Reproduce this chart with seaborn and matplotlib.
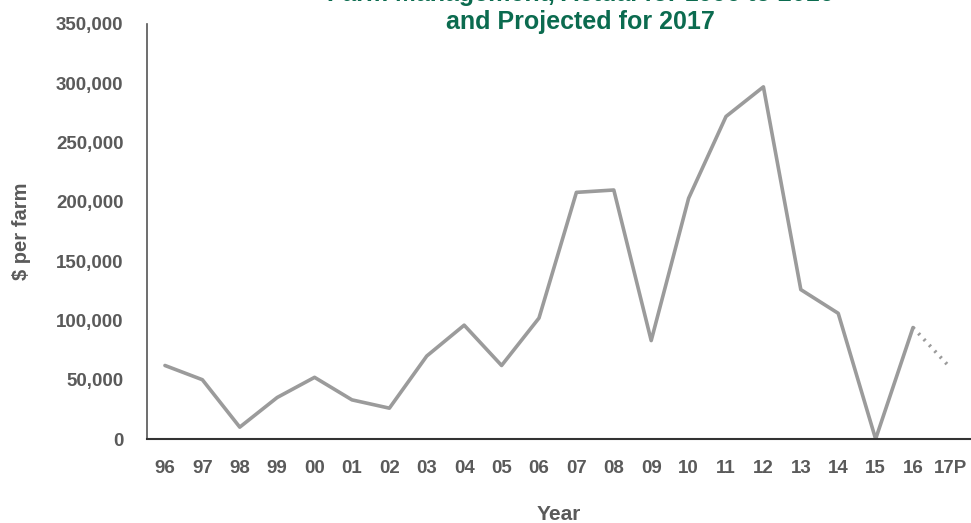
import matplotlib
matplotlib.use("Agg")
import matplotlib.pyplot as plt
import seaborn as sns
import pandas as pd
from matplotlib.ticker import FuncFormatter

year_labels = ["96", "97", "98", "99", "00", "01", "02", "03", "04", "05", "06",
               "07", "08", "09", "10", "11", "12", "13", "14", "15", "16", "17P"]
actual_values = [62000, 50000, 10000, 35000, 52000, 33000, 26000, 70000, 96000,
                 62000, 102000, 208000, 210000, 83000, 203000, 272000, 297000,
                 126000, 106000, 0, 94000]
projected_values = [94000, 60000]  # 2016 -> 2017P

sns.set_theme(style="white")
plt.rcParams['font.family'] = ['Liberation Sans', 'DejaVu Sans']

actual_df = pd.DataFrame({"x": list(range(len(actual_values))), "v": actual_values})
proj_df = pd.DataFrame({"x": [len(actual_values) - 1, len(actual_values)], "v": projected_values})

fig = plt.figure(figsize=(9.71, 5.23), dpi=100)
ax = fig.add_axes([147 / 971, 1 - 439 / 523, 1 - 147 / 971, (439 - 24) / 523])

line_color = "#9b9b9b"
sns.lineplot(data=actual_df, x="x", y="v", ax=ax, color=line_color, linewidth=2.6)
sns.lineplot(data=proj_df, x="x", y="v", ax=ax, color=line_color, linewidth=2.6,
             linestyle=(0, (0.6, 1.6)))

ax.set_xlim(-0.48, len(year_labels) - 0.45)
ax.set_ylim(0, 350000)
ax.set_xticks(range(len(year_labels)))
ax.set_xticklabels(year_labels)
ax.set_yticks(range(0, 350001, 50000))
ax.yaxis.set_major_formatter(FuncFormatter(lambda v, p: f"{int(v):,}"))

tick_color = "#5a5a5a"
for lab in ax.get_yticklabels():
    lab.set_fontweight("bold")
    lab.set_color(tick_color)
    lab.set_fontsize(13.5)
for lab in ax.get_xticklabels():
    lab.set_fontweight("bold")
    lab.set_color(tick_color)
    lab.set_fontsize(13.5)
ax.tick_params(axis="x", length=0, pad=15)
ax.tick_params(axis="y", length=0, pad=17)

for s in ["top", "right"]:
    ax.spines[s].set_visible(False)
ax.spines["left"].set_color("#555555")
ax.spines["left"].set_linewidth(1.2)
ax.spines["bottom"].set_color("#333333")
ax.spines["bottom"].set_linewidth(1.5)
ax.grid(False)

ax.set_xlabel("Year", fontsize=15, fontweight="bold", color=tick_color, labelpad=20)
ax.set_ylabel("$ per farm", fontsize=14.5, fontweight="bold", color=tick_color, labelpad=18)

title_color = "#0b6b4f"
fig.text(580 / 971, 1 - 22 / 523, "and Projected for 2017", ha="center", va="center",
         fontsize=18, fontweight="bold", color=title_color)
fig.text(580 / 971, 1 - (-6) / 523, "Farm Management, Actual for 1996 to 2016", ha="center",
         va="center", fontsize=18, fontweight="bold", color=title_color)

fig.savefig("out.png", dpi=100)
